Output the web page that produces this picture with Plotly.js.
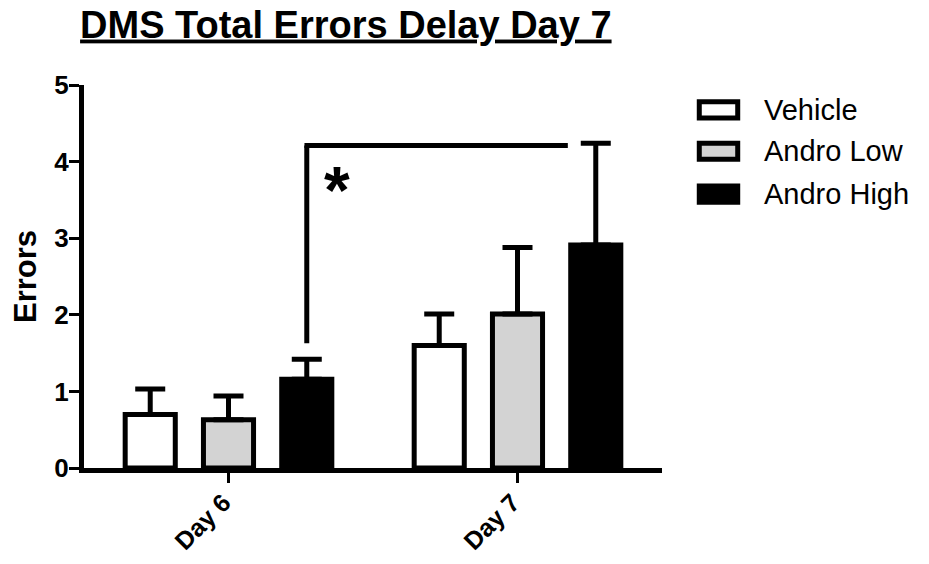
<!DOCTYPE html>
<html>
<head>
<meta charset="utf-8">
<script src="https://cdn.plot.ly/plotly-3.0.1.min.js"></script>
<style>html,body{margin:0;padding:0;background:#fff;}#chart{width:929px;height:564px;}</style>
</head>
<body>
<div id="chart"></div>
<script>
const categories = ['Day 6', 'Day 7'];
const seriesNames = ['Vehicle', 'Andro Low', 'Andro High'];
const vehicle = [0.70, 1.60];
const androLow = [0.63, 2.01];
const androHigh = [1.16, 2.91];
const vehicleErr = [0.33, 0.41];
const androLowErr = [0.31, 0.87];
const androHighErr = [0.26, 1.33];
const yTicks = [0, 1, 2, 3, 4, 5];
const sigTop = 4.21;
const sigBottom = 1.63;
const sigLabel = '*';
const titleText = 'DMS Total Errors Delay Day 7';
const yTitle = 'Errors';

const fills = ['#ffffff', '#d3d3d3', '#000000'];
const FONT = 'Liberation Sans, Arial, Helvetica, sans-serif';
const bargap = 0.1875, bargroupgap = 0.36;
const slot = (1 - bargap) / 3;
const halfBar = slot * (1 - bargroupgap) / 2;

const values = [vehicle, androLow, androHigh];
const errs = [vehicleErr, androLowErr, androHighErr];

const traces = seriesNames.map((name, i) => ({
  type: 'bar',
  name: name,
  x: categories,
  y: values[i],
  marker: {color: fills[i], line: {color: '#000', width: 5}},
  error_y: {type: 'data', array: errs[i], arrayminus: errs[i].map(() => 0), symmetric: false,
            color: '#000', thickness: 5, width: 15},
  showlegend: false,
  hoverinfo: 'skip'
}));

const sigX0 = 0 + slot;               // Day 6 Andro High centre
const sigX1 = 1 + slot - halfBar - 0.01; // just left of Day 7 Andro High bar

const shapes = [
  {type: 'line', xref: 'x', yref: 'y', x0: sigX0, x1: sigX0, y0: sigBottom, y1: sigTop, line: {color: '#000', width: 5}},
  {type: 'line', xref: 'x', yref: 'y', x0: sigX0 - 0.008, x1: sigX1, y0: sigTop, y1: sigTop, line: {color: '#000', width: 5}}
];

// manual legend (large box swatches)
const legRows = [0.935, 0.827, 0.715];
const annotations = [
  {xref: 'x', yref: 'y', x: sigX0 + 0.103, y: 3.78, text: sigLabel, showarrow: false,
   font: {family: FONT, size: 66, color: '#000', weight: 'bold'}, xanchor: 'center', yanchor: 'middle', yshift: -12}
];
seriesNames.forEach((name, i) => {
  const yc = legRows[i];
  shapes.push({type: 'rect', xref: 'paper', yref: 'paper',
    x0: 1.0645, x1: 1.131, y0: yc - 0.021, y1: yc + 0.021,
    fillcolor: fills[i], line: {color: '#000', width: 5}});
  annotations.push({xref: 'paper', yref: 'paper', x: 1.173, y: yc, text: name, showarrow: false,
    xanchor: 'left', yanchor: 'middle', font: {family: FONT, size: 29, color: '#000'}});
});

const layout = {
  width: 929, height: 564,
  margin: {l: 84, r: 267, t: 85, b: 96},
  paper_bgcolor: '#fff', plot_bgcolor: '#fff',
  barmode: 'group', bargap: bargap, bargroupgap: bargroupgap,
  font: {family: FONT, color: '#000'},
  title: {text: '<u>' + titleText + '</u>', xref: 'paper', x: 0.453, xanchor: 'center',
          yref: 'container', y: 0.957, yanchor: 'middle',
          font: {family: FONT, size: 38, color: '#000', weight: 'bold'}},
  xaxis: {type: 'category', range: [-0.5, 1.5], showline: true, linewidth: 5, linecolor: '#000',
          ticks: 'outside', ticklen: 10, tickwidth: 3, tickcolor: '#000', tickangle: -45,
          ticklabelstandoff: -5, ticklabelshift: -5,
          tickfont: {family: FONT, size: 25, color: '#000', weight: 'bold'},
          showgrid: false, zeroline: false, fixedrange: true},
  yaxis: {range: [0, 5], tickvals: yTicks, ticktext: yTicks.map(String), showline: true, linewidth: 5, linecolor: '#000',
          ticks: 'outside', ticklen: 10, tickwidth: 3, tickcolor: '#000', ticklabelstandoff: -5,
          tickfont: {family: FONT, size: 26, color: '#000', weight: 'bold'},
          title: {text: yTitle, font: {family: FONT, size: 31, color: '#000', weight: 'bold'}, standoff: 10},
          showgrid: false, zeroline: false, fixedrange: true},
  shapes: shapes,
  annotations: annotations
};

Plotly.newPlot('chart', traces, layout, {displayModeBar: false, staticPlot: true});
</script>
</body>
</html>
